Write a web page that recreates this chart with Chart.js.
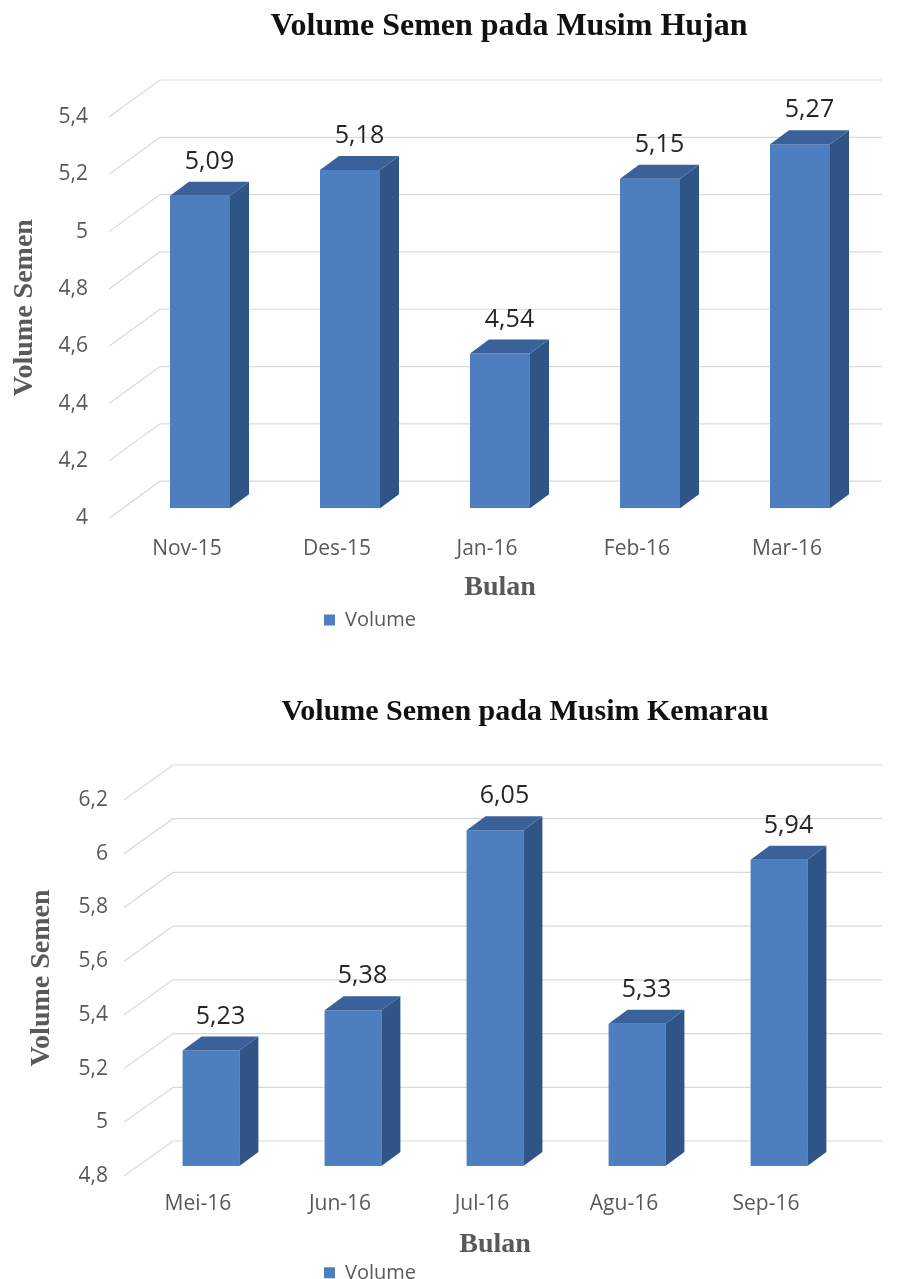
<!DOCTYPE html>
<html><head><meta charset="utf-8">
<script src="https://cdn.jsdelivr.net/npm/chart.js@4/dist/chart.umd.min.js"></script>
<style>
html,body{margin:0;padding:0;background:#fff;overflow:hidden;width:899px;height:1279px;position:relative;}
.box{position:absolute;left:0;width:899px;}
#b1{top:0;height:640px;}
#b2{top:640px;height:655px;}
</style></head><body>
<div class="box" id="b1"><canvas id="c1"></canvas></div>
<div class="box" id="b2"><canvas id="c2"></canvas></div>
<script>
// ---- data ----
const months1 = ['Nov-15', 'Des-15', 'Jan-16', 'Feb-16', 'Mar-16'];
const volume1 = [5.09, 5.18, 4.54, 5.15, 5.27];
const yTickValues1 = [4, 4.2, 4.4, 4.6, 4.8, 5, 5.2, 5.4];
const yTickLabels1 = ['4', '4,2', '4,4', '4,6', '4,8', '5', '5,2', '5,4'];

const months2 = ['Mei-16', 'Jun-16', 'Jul-16', 'Agu-16', 'Sep-16'];
const volume2 = [5.23, 5.38, 6.05, 5.33, 5.94];
const yTickValues2 = [4.8, 5, 5.2, 5.4, 5.6, 5.8, 6, 6.2];
const yTickLabels2 = ['4,8', '5', '5,2', '5,4', '5,6', '5,8', '6', '6,2'];

const title1 = 'Volume Semen pada Musim Hujan';
const title2 = 'Volume Semen pada Musim Kemarau';
const xTitle = 'Bulan';
const yTitle = 'Volume Semen';
const seriesName = 'Volume';

// ---- styles ----
const FRONT = '#4D7EBF', SIDE = '#2F5486', TOP = '#3A619A';
const GRID = '#D9D9D9', AXIS_TEXT = '#595959';
const fmt2 = v => v.toFixed(2).replace('.', ',');

const threeD = {
  id: 'threeD',
  afterLayout(chart, args, o) {
    if (chart.legend) {
      const s = o.legendCenter - (chart.legend.left + chart.legend.right) / 2;
      chart.legend.left += s; chart.legend.right += s;
    }
    if (chart.titleBlock) {
      chart.titleBlock.left += o.titleShift; chart.titleBlock.right += o.titleShift;
    }
  },
  beforeDatasetsDraw(chart, args, o) {
    const {ctx, chartArea} = chart;
    const y = chart.scales.y;
    ctx.save();
    ctx.strokeStyle = GRID; ctx.lineWidth = 1.2;
    y.ticks.forEach(t => {
      const py = y.getPixelForValue(t.value);
      ctx.beginPath();
      ctx.moveTo(chartArea.left + o.frontDx, py + o.frontDy);
      ctx.lineTo(chartArea.left + o.backDx, py + o.backDy);
      ctx.lineTo(chart.width - 17, py + o.backDy);
      ctx.stroke();
    });
    ctx.restore();
  },
  afterDatasetsDraw(chart, args, o) {
    const ctx = chart.ctx;
    const meta = chart.getDatasetMeta(0);
    const data = chart.data.datasets[0].data;
    ctx.save();
    meta.data.forEach((bar, i) => {
      const p = bar.getProps(['x', 'y', 'base', 'width'], true);
      const x = p.x, y = p.y, width = p.width;
      const base = Math.min(p.base, chart.chartArea.bottom);
      const l = x - width / 2, r = x + width / 2;
      ctx.fillStyle = SIDE;
      ctx.beginPath();
      ctx.moveTo(r, y); ctx.lineTo(r + o.dx, y + o.dy); ctx.lineTo(r + o.dx, base + o.dy); ctx.lineTo(r, base);
      ctx.closePath(); ctx.fill();
      ctx.fillStyle = TOP;
      ctx.beginPath();
      ctx.moveTo(l, y); ctx.lineTo(l + o.dx, y + o.dy); ctx.lineTo(r + o.dx, y + o.dy); ctx.lineTo(r, y);
      ctx.closePath(); ctx.fill();
      ctx.fillStyle = '#262626';
      ctx.font = '25px "Open Sans"';
      ctx.textAlign = 'center'; ctx.textBaseline = 'middle';
      ctx.fillText(fmt2(data[i]), x + o.dx / 2, y + o.labelDy);
    });
    ctx.restore();
  }
};

function makeChart(id, labels, values, tickValues, tickLabels, titleText, c) {
  return new Chart(document.getElementById(id), {
    type: 'bar',
    data: {
      labels: labels,
      datasets: [{
        label: seriesName, data: values, backgroundColor: FRONT, borderWidth: 0,
        base: tickValues[0],
        barPercentage: 0.4, categoryPercentage: 1
      }]
    },
    options: {
      responsive: true, maintainAspectRatio: false, animation: false,
      layout: {padding: {left: 0, right: c.padRight, top: 0, bottom: c.padBottom}},
      plugins: {
        title: {
          display: true, text: titleText, fullSize: false, color: '#111111',
          font: {family: 'Liberation Serif', size: c.titleSize, weight: 'bold'},
          padding: {top: c.titleTop, bottom: c.titleBottom}
        },
        legend: {
          position: 'bottom',
          labels: {boxWidth: 11, boxHeight: 11, color: AXIS_TEXT, font: {family: 'Open Sans', size: 20}, padding: c.legendPad}
        },
        tooltip: {enabled: false},
        threeD: {
          legendCenter: c.legendCenter, titleShift: c.titleShift,
          frontDx: -16, frontDy: 10, backDx: c.backDx, backDy: c.backDy,
          dx: 19, dy: -14, labelDy: -34
        }
      },
      scales: {
        x: {
          grid: {display: false, drawTicks: false}, border: {display: false},
          afterFit(s) { s.height = c.xHeight; },
          ticks: {color: AXIS_TEXT, font: {family: 'Open Sans', size: 21}, padding: c.xTickPad, labelOffset: -13, maxRotation: 0, autoSkip: false},
          title: {display: true, text: xTitle, color: AXIS_TEXT, font: {family: 'Liberation Serif', size: 28, weight: 'bold'}, padding: {top: 0, bottom: 0}}
        },
        y: {
          min: tickValues[0], max: tickValues[tickValues.length - 1],
          grid: {display: false, drawTicks: false}, border: {display: false},
          afterBuildTicks(s) { s.ticks = tickValues.map(v => ({value: v})); },
          afterFit(s) { s.width = c.yWidth; },
          ticks: {
            color: AXIS_TEXT, font: {family: 'Open Sans', size: 21}, padding: c.yTickPad, labelOffset: 10,
            callback: (v, i) => tickLabels[i]
          },
          title: {display: true, text: yTitle, color: AXIS_TEXT, font: {family: 'Liberation Serif', size: 28, weight: 'bold'}, padding: {top: c.yTitlePad, bottom: 0}}
        }
      }
    },
    plugins: [threeD]
  });
}

makeChart('c1', months1, volume1, yTickValues1, yTickLabels1, title1, {
  titleSize: 32, padRight: 24, padBottom: 0, titleTop: 8, titleBottom: 60.6, legendPad: 5, legendCenter: 370, titleShift: 9,
  xTickPad: 28, xHeight: 96.8, yWidth: 125, yTickPad: 37, yTitlePad: 8, backDx: 35, backDy: -27
});
makeChart('c2', months2, volume2, yTickValues2, yTickLabels2, title2, {
  titleSize: 30, padRight: 49, padBottom: 2.2, titleTop: 54, titleBottom: 60, legendPad: 1, legendCenter: 370, titleShift: 30,
  xTickPad: 25, xHeight: 95.8, yWidth: 140, yTickPad: 32, yTitlePad: 25, backDx: 33, backDy: -25
});
</script>
</body></html>
